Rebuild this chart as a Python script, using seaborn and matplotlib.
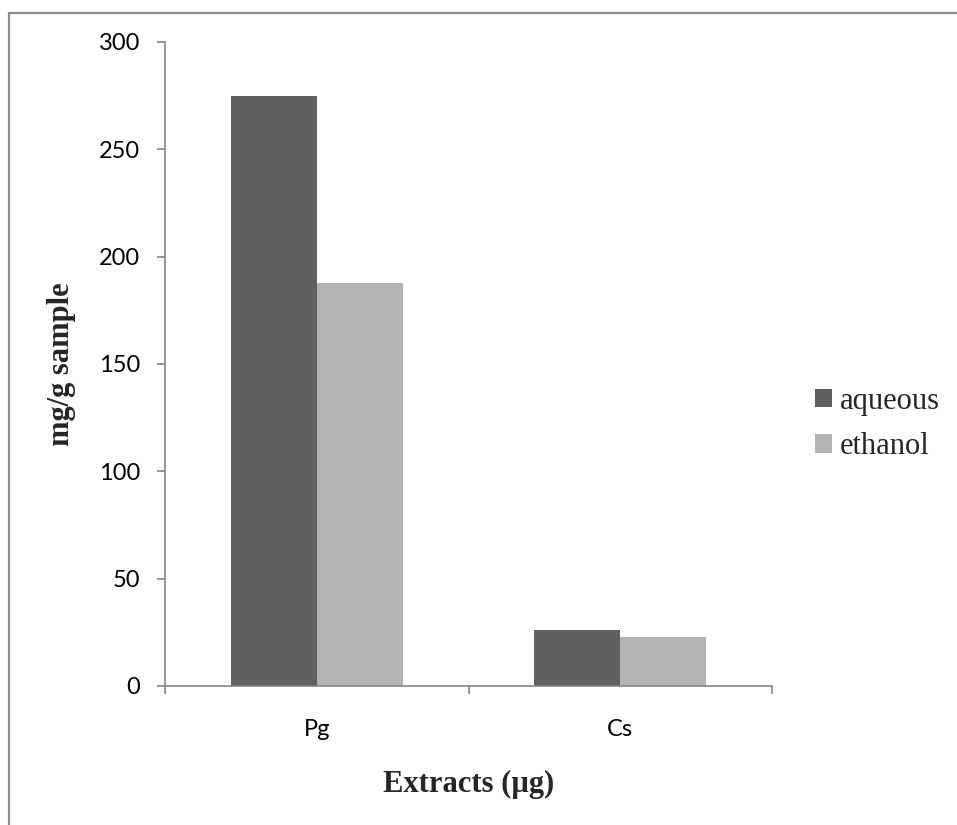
import matplotlib
matplotlib.use("Agg")
import matplotlib.pyplot as plt
from matplotlib.patches import Rectangle, Patch
import seaborn as sns
import pandas as pd

categories = ["Pg", "Cs"]
series_names = ["aqueous", "ethanol"]
aqueous = [275.0, 26.0]
ethanol = [187.5, 22.7]
y_ticks = [0, 50, 100, 150, 200, 250, 300]
colors = ["#606060", "#b3b3b3"]

df = pd.DataFrame({
    "extract": categories * 2,
    "solvent": [series_names[0]] * 2 + [series_names[1]] * 2,
    "value": aqueous + ethanol,
})

sns.set_style("white")
plt.rcParams["font.family"] = ["Lato", "DejaVu Sans"]

W, H = 957, 825
fig = plt.figure(figsize=(W / 100, H / 100), dpi=100)
ax = fig.add_axes([165 / W, 1 - 686 / H, (772 - 165) / W, (686 - 42) / H])

sns.barplot(data=df, x="extract", y="value", hue="solvent", order=categories,
            hue_order=series_names, palette=colors, saturation=1,
            width=0.567, gap=0, ax=ax, edgecolor="none", linewidth=0,
            legend=False)

axis_col = "#868686"
ax.set_xlim(-0.5, 1.5)
ax.set_ylim(0, 300)
ax.set_yticks(y_ticks)
ax.set_yticklabels([str(t) for t in y_ticks], fontsize=17, color="black")
for s in ["top", "right"]:
    ax.spines[s].set_visible(False)
for s in ["left", "bottom"]:
    ax.spines[s].set_color(axis_col)
    ax.spines[s].set_linewidth(1.2)
ax.tick_params(axis="y", direction="out", length=6, width=1.2, color=axis_col, pad=12, left=True)

ax.set_xticks([-0.5, 0.5, 1.5])
ax.set_xticklabels(["", "", ""])
ax.set_xticks([0, 1], minor=True)
ax.set_xticklabels(categories, minor=True, fontsize=17, color="black")
ax.tick_params(axis="x", which="major", direction="out", length=6, width=1.2, color=axis_col, bottom=True)
ax.tick_params(axis="x", which="minor", length=0, pad=24)

serif = ["Liberation Serif", "DejaVu Serif"]
ax.set_xlabel("Extracts (µg)", fontsize=22, fontweight="bold", family=serif)
ax.xaxis.set_label_coords(0.5, (686 - 784) / (686 - 42))
ax.xaxis.label.set_va("center")
ax.set_ylabel("mg/g sample", fontsize=22, fontweight="bold", family=serif)
ax.yaxis.set_label_coords((62 - 165) / (772 - 165), 0.5)
ax.yaxis.label.set_va("center")

handles = [Patch(facecolor=c, edgecolor="none") for c in colors]
leg = ax.legend(handles, series_names, loc="center left",
                bbox_to_anchor=(815 / W, 1 - 424 / H), bbox_transform=fig.transFigure,
                frameon=False, borderpad=0, borderaxespad=0,
                handlelength=0.55, handleheight=0.55, handletextpad=0.25,
                labelspacing=0.55, prop={"family": serif, "size": 22})

fig.add_artist(Rectangle((9 / W, -0.5), 2.0, 0.5 + (1 - 13 / H), transform=fig.transFigure,
                         fill=False, edgecolor="#8c8c8c", linewidth=1.6))

fig.savefig("out.png", dpi=100, facecolor="white")
